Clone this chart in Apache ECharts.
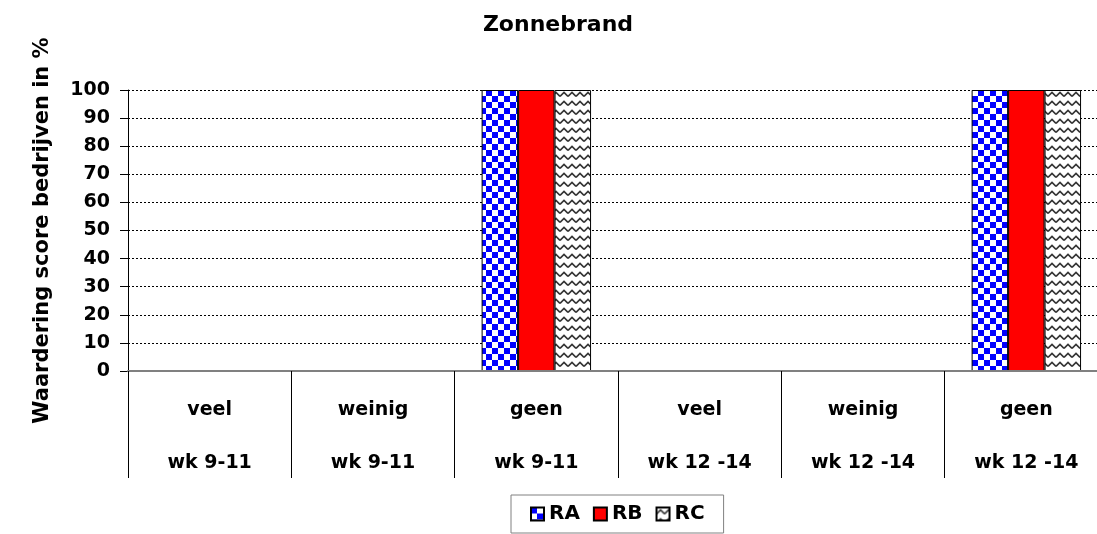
<!DOCTYPE html>
<html>
<head>
<meta charset="utf-8">
<title>Zonnebrand</title>
<script src="https://cdn.jsdelivr.net/npm/echarts@6/dist/echarts.min.js"></script>
<style>
  html, body { margin: 0; padding: 0; background: #fff; overflow: hidden; width: 1097px; height: 534px; }
  /* the plot runs slightly past the right edge of the page, so the canvas is wider than the window */
  #chart { width: 1108px; height: 534px; }
</style>
</head>
<body>
<div id="chart"></div>
<script>
// Categories: damage level, then the week range it belongs to
const levels = ['veel', 'weinig', 'geen', 'veel', 'weinig', 'geen'];
const weeks = ['wk 9-11', 'wk 9-11', 'wk 9-11', 'wk 12 -14', 'wk 12 -14', 'wk 12 -14'];

// Share of farms (%) per score, per group
const seriesNames = ['RA', 'RB', 'RC'];
const valuesRA = [0, 0, 100, 0, 0, 100];
const valuesRB = [0, 0, 100, 0, 0, 100];
const valuesRC = [0, 0, 100, 0, 0, 100];

const yTicks = { min: 0, max: 100, interval: 10 };

const FONT = 'DejaVu Sans';

// Blue/white checkerboard fill
function checkerPattern() {
  const c = document.createElement('canvas');
  c.width = 12; c.height = 12;
  const g = c.getContext('2d');
  g.fillStyle = '#ffffff';
  g.fillRect(0, 0, 12, 12);
  g.fillStyle = '#0000ff';
  g.fillRect(0, 0, 6, 6);
  g.fillRect(6, 6, 6, 6);
  return c;
}

// White fill with grey zigzag rows
function zigzagPattern() {
  const c = document.createElement('canvas');
  c.width = 8; c.height = 9;
  const g = c.getContext('2d');
  g.fillStyle = '#ffffff';
  g.fillRect(0, 0, 8, 9);
  g.strokeStyle = '#333333';
  g.lineWidth = 1.6;
  g.beginPath();
  g.moveTo(0, 6.5);
  g.lineTo(4, 2.5);
  g.lineTo(8, 6.5);
  g.stroke();
  return c;
}

const fills = [
  { image: checkerPattern(), repeat: 'repeat' },
  '#ff0000',
  { image: zigzagPattern(), repeat: 'repeat' }
];
const seriesValues = [valuesRA, valuesRB, valuesRC];

const categories = levels.map((l, i) => l + '\n' + weeks[i]);

const chart = echarts.init(document.getElementById('chart'), null, { renderer: 'canvas' });

chart.setOption({
  backgroundColor: '#ffffff',
  animation: false,
  title: {
    text: 'Zonnebrand',
    left: 558,
    top: 14,
    padding: 0,
    textAlign: 'center',
    textStyle: { fontFamily: FONT, fontWeight: 'bold', fontSize: 22, color: '#000' }
  },
  legend: {
    data: seriesNames,
    icon: 'rect',
    left: 511,
    top: 495,
    padding: [9, 19, 9, 19],
    itemGap: 13,
    itemWidth: 13,
    itemHeight: 13,
    borderColor: '#808080',
    borderWidth: 1,
    textStyle: { fontFamily: FONT, fontWeight: 'bold', fontSize: 20, color: '#000' }
  },
  grid: {
    left: 128,
    top: 90,
    width: 980,
    height: 281,
    containLabel: false
  },
  xAxis: {
    type: 'category',
    data: categories,
    z: 3,
    axisLine: { show: true, lineStyle: { color: '#808080', width: 2 } },
    axisTick: { show: true, interval: 0, length: 107, lineStyle: { color: '#000', width: 1 } },
    axisLabel: {
      interval: 0,
      margin: 13,
      lineHeight: 53,
      fontFamily: FONT,
      fontWeight: 'bold',
      fontSize: 19,
      color: '#000'
    },
    splitLine: { show: false }
  },
  yAxis: {
    type: 'value',
    min: yTicks.min,
    max: yTicks.max,
    interval: yTicks.interval,
    name: 'Waardering score bedrijven in %',
    nameLocation: 'middle',
    nameGap: 75,
    nameTextStyle: { fontFamily: FONT, fontWeight: 'bold', fontSize: 21, color: '#000' },
    axisLine: { show: true, lineStyle: { color: '#000', width: 1 } },
    axisTick: { show: true, inside: false, length: 8, lineStyle: { color: '#000' } },
    axisLabel: { margin: 18, fontFamily: FONT, fontWeight: 'bold', fontSize: 19, color: '#000' },
    splitLine: { show: true, lineStyle: { color: '#000', type: [2, 2], width: 1 } }
  },
  series: seriesNames.map((name, i) => ({
    name: name,
    type: 'bar',
    data: seriesValues[i],
    barGap: '0%',
    barCategoryGap: '33%',
    itemStyle: { color: fills[i], borderColor: '#000', borderWidth: 1 }
  }))
});
</script>
</body>
</html>
